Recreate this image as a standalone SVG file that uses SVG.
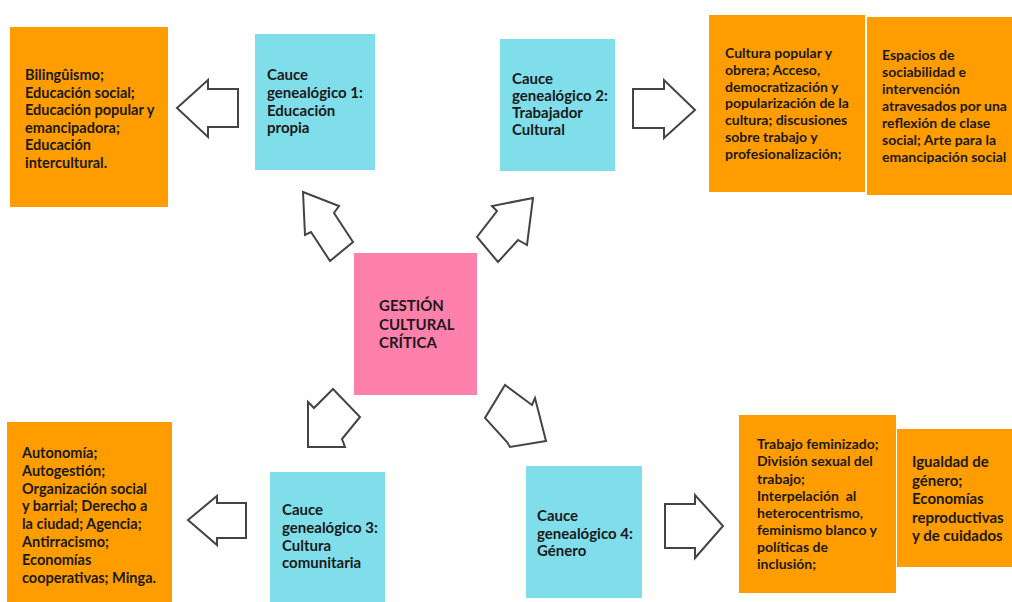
<svg xmlns="http://www.w3.org/2000/svg" width="1012" height="602" viewBox="0 0 1012 602">
<style>
.orange{fill:#FF9D00}
.cyan{fill:#80DDEA}
.pink{fill:#FF80AB}
text{font-family:Lato,"Liberation Sans",sans-serif;font-weight:700;fill:#1a1a1a}
.t14{font-size:14.5px}
.t13{font-size:14px}
.t15{font-size:15px}
.arrow{fill:#fff;stroke:#444;stroke-width:2;stroke-linejoin:miter}
</style>
<rect width="1012" height="602" fill="#fff"/>
<g id="connectors">
<polygon class="arrow" points="177,108 208,80 208,89 238,89 238,127 208,127 208,137"/>
<polygon class="arrow" points="633,89 664,89 664,80 695,110 664,138 664,128 633,128"/>
<polygon class="arrow" points="188,520 217,496 217,503 246,503 246,538 217,538 217,545"/>
<polygon class="arrow" points="665,504 695,504 695,495 723,526 695,558 695,548 665,548"/>
<polygon class="arrow" points="303,192 339,206 334,213 353,242 330,261 311,232 305,235"/>
<polygon class="arrow" points="533,198 527,245 518,240 498,262 477,237 497,211 492,206"/>
<polygon class="arrow" points="308,447 345,447 342,439 360,417 333,389 314,408 308,402"/>
<polygon class="arrow" points="546,441 510,447 507,442 485,418 505,385 532,405 535,398"/>
</g>
<g id="center">
<rect class="pink" x="354" y="253" width="123" height="142"/>
<text class="t15" x="379"><tspan x="379" y="311">GESTIÓN</tspan><tspan x="379" y="330">CULTURAL</tspan><tspan x="379" y="348">CRÍTICA</tspan></text>
</g>
<g id="cauce1">
<rect class="cyan" x="255" y="34" width="120" height="136"/>
<text class="t15"><tspan x="267" y="80">Cauce</tspan><tspan x="267" y="98">genealógico 1:</tspan><tspan x="267" y="116">Educación</tspan><tspan x="267" y="133">propia</tspan></text>
</g>
<g id="box1">
<rect class="orange" x="10" y="27" width="158" height="180"/>
<text class="t14"><tspan x="25" y="80">Bilingûismo;</tspan><tspan x="25" y="97.5">Educación social;</tspan><tspan x="25" y="115">Educación popular y</tspan><tspan x="25" y="132.5">emancipadora;</tspan><tspan x="25" y="150">Educación</tspan><tspan x="25" y="167.5">intercultural.</tspan></text>
</g>
<g id="cauce2">
<rect class="cyan" x="500" y="39" width="115" height="132"/>
<text class="t15"><tspan x="512" y="84">Cauce</tspan><tspan x="512" y="101">genealógico 2:</tspan><tspan x="512" y="118">Trabajador</tspan><tspan x="512" y="135">Cultural</tspan></text>
</g>
<g id="box2a">
<rect class="orange" x="709" y="15" width="156" height="177"/>
<text class="t13"><tspan x="725" y="58">Cultura popular y</tspan><tspan x="725" y="75">obrera; Acceso,</tspan><tspan x="725" y="92">democratización y</tspan><tspan x="725" y="108">popularización de la</tspan><tspan x="725" y="125">cultura; discusiones</tspan><tspan x="725" y="142">sobre trabajo y</tspan><tspan x="725" y="159">profesionalización;</tspan></text>
</g>
<g id="box2b">
<rect class="orange" x="867" y="17" width="145" height="178"/>
<text class="t13"><tspan x="882" y="60">Espacios de</tspan><tspan x="882" y="77">sociabilidad e</tspan><tspan x="882" y="94">intervención</tspan><tspan x="882" y="111">atravesados por una</tspan><tspan x="882" y="128">reflexión de clase</tspan><tspan x="882" y="145">social; Arte para la</tspan><tspan x="882" y="162">emancipación social</tspan></text>
</g>
<g id="cauce3">
<rect class="cyan" x="270" y="472" width="115" height="130"/>
<text class="t15"><tspan x="282" y="515">Cauce</tspan><tspan x="282" y="533">genealógico 3:</tspan><tspan x="282" y="551">Cultura</tspan><tspan x="282" y="568">comunitaria</tspan></text>
</g>
<g id="box3">
<rect class="orange" x="7" y="422" width="165" height="180"/>
<text class="t14"><tspan x="22" y="458">Autonomía;</tspan><tspan x="22" y="476">Autogestión;</tspan><tspan x="22" y="494">Organización social</tspan><tspan x="22" y="511">y barrial; Derecho a</tspan><tspan x="22" y="529">la ciudad; Agencia;</tspan><tspan x="22" y="547">Antirracismo;</tspan><tspan x="22" y="565">Economías</tspan><tspan x="22" y="583">cooperativas; Minga.</tspan></text>
</g>
<g id="cauce4">
<rect class="cyan" x="526" y="466" width="116" height="132"/>
<text class="t15"><tspan x="537" y="521">Cauce</tspan><tspan x="537" y="539">genealógico 4:</tspan><tspan x="537" y="556">Género</tspan></text>
</g>
<g id="box4a">
<rect class="orange" x="739" y="415" width="157" height="178"/>
<text class="t13" style="white-space:pre"><tspan x="757" y="449">Trabajo feminizado;</tspan><tspan x="757" y="466">División sexual del</tspan><tspan x="757" y="483.5">trabajo;</tspan><tspan x="757" y="501">Interpelación  al</tspan><tspan x="757" y="518">heterocentrismo,</tspan><tspan x="757" y="535">feminismo blanco y</tspan><tspan x="757" y="552">políticas de</tspan><tspan x="757" y="569">inclusión;</tspan></text>
</g>
<g id="box4b">
<rect class="orange" x="897" y="429" width="115" height="138"/>
<text class="t15"><tspan x="912" y="467">Igualdad de</tspan><tspan x="912" y="485.5">género;</tspan><tspan x="912" y="504">Economías</tspan><tspan x="912" y="523">reproductivas</tspan><tspan x="912" y="541">y de cuidados</tspan></text>
</g>
</svg>
